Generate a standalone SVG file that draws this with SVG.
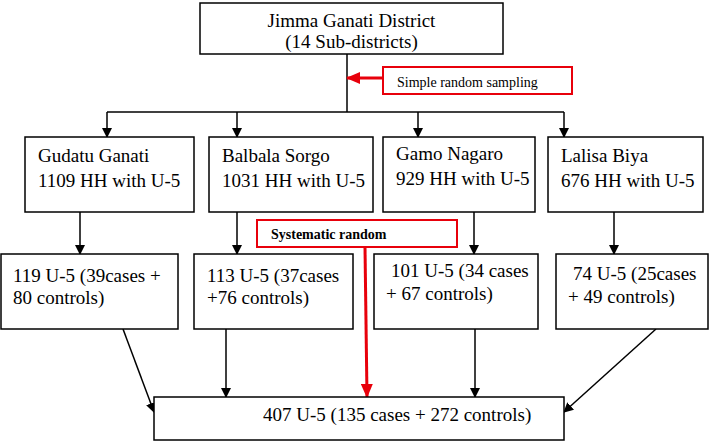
<svg xmlns="http://www.w3.org/2000/svg" width="712" height="442" viewBox="0 0 712 442">
<defs>
<style>
.box{fill:#fff;stroke:#000;stroke-width:1.5}
.rbox{fill:#fff;stroke:#e8000b;stroke-width:2}
.t{font-family:"Liberation Serif","Times New Roman",serif;font-size:19px;fill:#000}
.s{font-family:"Liberation Serif","Times New Roman",serif;font-size:14px;fill:#000}
.b{font-weight:bold}
.ln{stroke:#000;stroke-width:1.5;fill:none}
.rl{stroke:#e8000b;stroke-width:3;fill:none}
</style>
<marker id="ah" markerWidth="10" markerHeight="10" refX="9" refY="5" orient="auto" markerUnits="userSpaceOnUse">
<path d="M0,0 L10,5 L0,10 Z" fill="#000"/>
</marker>
<marker id="rh" markerWidth="14" markerHeight="12" refX="13" refY="6" orient="auto" markerUnits="userSpaceOnUse">
<path d="M0,0 L14,6 L0,12 Z" fill="#e8000b"/>
</marker>
</defs>
<rect width="712" height="442" fill="#fff"/>
<g id="connectors">
<line class="ln" x1="347" y1="54" x2="347" y2="112"/>
<line class="ln" x1="107" y1="112" x2="564" y2="112"/>
<line class="ln" x1="107" y1="112" x2="107" y2="137" marker-end="url(#ah)"/>
<line class="ln" x1="237" y1="112" x2="237" y2="137" marker-end="url(#ah)"/>
<line class="ln" x1="418" y1="112" x2="418" y2="137" marker-end="url(#ah)"/>
<line class="ln" x1="564" y1="112" x2="564" y2="137" marker-end="url(#ah)"/>
<line class="ln" x1="80" y1="212" x2="80" y2="254" marker-end="url(#ah)"/>
<line class="ln" x1="237" y1="212" x2="237" y2="254" marker-end="url(#ah)"/>
<line class="ln" x1="474" y1="212" x2="474" y2="254" marker-end="url(#ah)"/>
<line class="ln" x1="614" y1="212" x2="614" y2="254" marker-end="url(#ah)"/>
<line class="ln" x1="123" y1="329" x2="154" y2="412" marker-end="url(#ah)"/>
<line class="ln" x1="226" y1="329" x2="226" y2="397" marker-end="url(#ah)"/>
<line class="ln" x1="475" y1="329" x2="475" y2="397" marker-end="url(#ah)"/>
<line class="ln" x1="656" y1="329" x2="564" y2="412" marker-end="url(#ah)"/>
<line class="rl" x1="383" y1="78" x2="347" y2="78" marker-end="url(#rh)"/>
<line class="rl" x1="365" y1="247" x2="367" y2="397" marker-end="url(#rh)"/>
</g>
<g id="district">
<rect class="box" x="200" y="3" width="303" height="51"/>
<text class="t" x="351.5" y="27" text-anchor="middle">Jimma Ganati District</text>
<text class="t" x="351.5" y="48" text-anchor="middle">(14 Sub-districts)</text>
</g>
<g id="srs">
<rect class="rbox" x="383" y="67" width="189" height="27"/>
<text class="s" x="397" y="87">Simple random sampling</text>
</g>
<g id="gudatu">
<rect class="box" x="25" y="137" width="169" height="75"/>
<text class="t" x="38" y="162">Gudatu Ganati</text>
<text class="t" x="38" y="187">1109 HH with U-5</text>
</g>
<g id="balbala">
<rect class="box" x="209" y="137" width="164" height="75"/>
<text class="t" x="222" y="162">Balbala Sorgo</text>
<text class="t" x="222" y="187">1031 HH with U-5</text>
</g>
<g id="gamo">
<rect class="box" x="383" y="137" width="152" height="75"/>
<text class="t" x="396" y="160">Gamo Nagaro</text>
<text class="t" x="396" y="185">929 HH with U-5</text>
</g>
<g id="lalisa">
<rect class="box" x="548" y="137" width="155" height="75"/>
<text class="t" x="561" y="162">Lalisa Biya</text>
<text class="t" x="561" y="187">676 HH with U-5</text>
</g>
<g id="sys">
<rect class="rbox" x="257" y="220" width="200" height="27"/>
<text class="s b" x="271" y="239">Systematic random</text>
</g>
<g id="gudatu-sample">
<rect class="box" x="1" y="254" width="177" height="75"/>
<text class="t" x="13" y="282">119 U-5 (39cases +</text>
<text class="t" x="13" y="304">80 controls)</text>
</g>
<g id="balbala-sample">
<rect class="box" x="194" y="254" width="159" height="75"/>
<text class="t" x="207" y="282">113 U-5 (37cases</text>
<text class="t" x="207" y="304">+76 controls)</text>
</g>
<g id="gamo-sample">
<rect class="box" x="374" y="254" width="164" height="75"/>
<text class="t" x="391" y="277">101 U-5 (34 cases</text>
<text class="t" x="386" y="300">+ 67 controls)</text>
</g>
<g id="lalisa-sample">
<rect class="box" x="556" y="254" width="152" height="75"/>
<text class="t" x="573" y="280">74 U-5 (25cases</text>
<text class="t" x="568" y="303">+ 49 controls)</text>
</g>
<g id="total">
<rect class="box" x="154" y="397" width="410" height="43"/>
<text class="t" x="263" y="421">407 U-5 (135 cases + 272 controls)</text>
</g>
</svg>
